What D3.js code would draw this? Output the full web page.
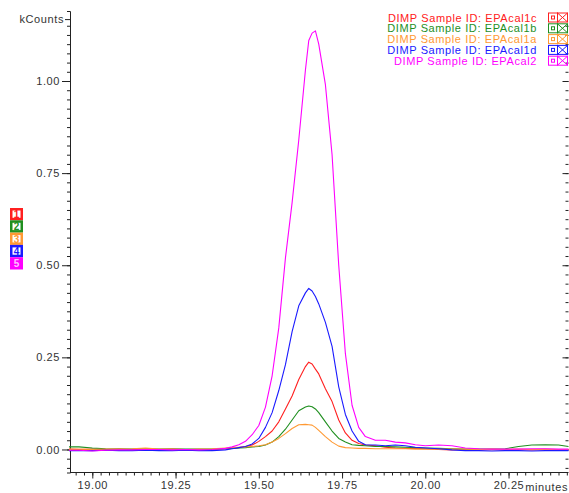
<!DOCTYPE html>
<html>
<head>
<meta charset="utf-8">
<script src="https://cdn.jsdelivr.net/npm/d3@7"></script>
<style>
  html, body { margin: 0; padding: 0; background: #fff; }
  svg { display: block; font-family: "Liberation Sans", Arial, sans-serif; }
</style>
</head>
<body>
<svg id="chart" width="569" height="493"></svg>
<script>
// Retention time (minutes)
const times = [18.93, 18.96, 19.00, 19.04, 19.08, 19.12, 19.16, 19.20, 19.24, 19.28, 19.32, 19.36,
  19.40, 19.42, 19.44, 19.46, 19.48, 19.50, 19.52, 19.54, 19.56, 19.58, 19.60, 19.62, 19.64,
  19.65, 19.66, 19.67, 19.68, 19.70, 19.72, 19.74, 19.76, 19.78, 19.80, 19.82, 19.85, 19.88,
  19.91, 19.94, 19.97, 20.00, 20.04, 20.08, 20.12, 20.16, 20.20, 20.24, 20.28, 20.32, 20.36,
  20.40, 20.43];

// Detector response (kCounts) for each injection
const cal1c = [0.001, 0.000, 0.001, 0.000, 0.001, 0.000, 0.001, 0.000, 0.001, 0.000, -0.001, 0.000,
  0.002, 0.003, 0.005, 0.008, 0.012, 0.022, 0.035, 0.050, 0.075, 0.110, 0.145, 0.190, 0.225,
  0.237, 0.232, 0.218, 0.205, 0.165, 0.130, 0.080, 0.045, 0.025, 0.016, 0.012, 0.010, 0.006,
  0.004, 0.003, 0.003, 0.002, 0.000, -0.001, 0.000, -0.001, 0.000, -0.001, 0.000, -0.001, 0.000,
  -0.001, 0.000];
const cal1b = [0.007, 0.007, 0.004, 0.002, 0.001, 0.001, 0.001, 0.001, 0.001, 0.001, 0.001, 0.001,
  0.002, 0.003, 0.004, 0.005, 0.007, 0.008, 0.012, 0.020, 0.035, 0.055, 0.080, 0.105, 0.115,
  0.118, 0.116, 0.110, 0.100, 0.075, 0.050, 0.030, 0.020, 0.013, 0.011, 0.010, 0.008, 0.008,
  0.007, 0.006, 0.005, 0.004, 0.003, 0.002, 0.001, 0.001, 0.001, 0.002, 0.008, 0.012, 0.013,
  0.012, 0.008];
const cal1a = [0.001, 0.001, 0.000, 0.001, 0.001, 0.002, 0.004, 0.001, 0.001, 0.000, 0.001, 0.002,
  0.004, 0.005, 0.006, 0.007, 0.008, 0.010, 0.013, 0.020, 0.030, 0.043, 0.057, 0.067, 0.068,
  0.067, 0.066, 0.060, 0.052, 0.035, 0.020, 0.009, 0.005, 0.004, 0.003, 0.003, 0.002, 0.002,
  0.002, 0.002, 0.001, 0.001, 0.001, 0.001, 0.001, 0.000, 0.001, 0.000, 0.001, 0.000, 0.001,
  0.000, 0.000];
const cal1d = [-0.003, -0.003, -0.003, -0.002, -0.003, -0.003, -0.002, -0.003, -0.003, -0.002, -0.003, -0.003,
  -0.001, 0.002, 0.005, 0.008, 0.015, 0.030, 0.060, 0.100, 0.160, 0.230, 0.320, 0.390, 0.425,
  0.437, 0.430, 0.415, 0.395, 0.345, 0.280, 0.170, 0.095, 0.050, 0.022, 0.013, 0.012, 0.010,
  0.012, 0.010, 0.006, 0.004, 0.002, -0.001, -0.003, -0.003, -0.004, -0.003, -0.003, -0.004, -0.003,
  -0.003, -0.003];
const cal2 = [-0.002, -0.002, -0.004, -0.002, -0.001, -0.001, 0.000, 0.000, -0.001, 0.000, -0.001, 0.000,
  0.003, 0.007, 0.013, 0.022, 0.040, 0.065, 0.115, 0.200, 0.330, 0.520, 0.670, 0.840, 1.030,
  1.110, 1.130, 1.136, 1.100, 0.990, 0.800, 0.500, 0.260, 0.120, 0.060, 0.035, 0.025, 0.025,
  0.020, 0.018, 0.013, 0.010, 0.012, 0.010, 0.004, 0.002, 0.001, 0.001, 0.001, 0.002, 0.002,
  0.001, 0.001];

const seriesNames = ["DIMP Sample ID: EPAcal1c", "DIMP Sample ID: EPAcal1b", "DIMP Sample ID: EPAcal1a",
  "DIMP Sample ID: EPAcal1d", "DIMP Sample ID: EPAcal2"];
const seriesValues = [cal1c, cal1b, cal1a, cal1d, cal2];
const seriesColors = ["#ff2020", "#1f8f1f", "#ff9933", "#1a1aff", "#ff00ff"];
const traceLabels = ["1", "2", "3", "4", "5"];

// Axis ticks
const xMajorTicks = [19.00, 19.25, 19.50, 19.75, 20.00, 20.25];
const yMajorTicks = [0.00, 0.25, 0.50, 0.75, 1.00];
const yUnitLabel = "kCounts";
const xUnitLabel = "minutes";

const svg = d3.select("#chart");
const x = d3.scaleLinear().domain([18.933, 20.43]).range([70, 568.5]);
const y = d3.scaleLinear().domain([-0.0625, 1.19]).range([472.5, 11]);

const axisColor = "#222";
const textColor = "#333";

// Minor tick positions every 0.025 units
const xMinor = d3.range(0, 61).map(i => +(18.95 + i * 0.025).toFixed(3)).filter(v => v <= 20.43);
const yMinor = d3.range(0, 50).map(i => +(-0.05 + i * 0.025).toFixed(3)).filter(v => v <= 1.16);

// Left axis
const gy = svg.append("g").attr("transform", `translate(${x.range()[0]},0)`);
gy.call(d3.axisLeft(y).tickValues(yMinor).tickSize(3).tickFormat(""));
gy.append("g").call(d3.axisLeft(y).tickValues(yMajorTicks).tickSize(8).tickPadding(2)
  .tickFormat(d3.format(".2f")));
gy.append("g").call(d3.axisLeft(y).tickValues([1.168]).tickSize(5).tickPadding(1)
  .tickFormat(() => yUnitLabel));
gy.selectAll("path.domain").attr("stroke", axisColor);
gy.selectAll("g > g > g.tick line, .tick line").attr("stroke", axisColor);
gy.selectAll("path.domain").filter((d, i) => i > 0).remove();

// Right-hand tick marks
const gr = svg.append("g").attr("transform", `translate(568.5,0)`);
gr.call(d3.axisLeft(y).tickValues(yMinor).tickSize(3).tickFormat(""));
gr.append("g").call(d3.axisLeft(y).tickValues(yMajorTicks).tickSize(6).tickFormat(""));
gr.selectAll("path.domain").remove();

// Bottom axis
const gx = svg.append("g").attr("transform", `translate(0,${y.range()[0]})`);
gx.call(d3.axisBottom(x).tickValues(xMinor).tickSize(3).tickFormat(""));
gx.append("g").call(d3.axisBottom(x).tickValues(xMajorTicks).tickSize(6).tickPadding(3)
  .tickFormat(d3.format(".2f")));
gx.selectAll("path.domain").filter((d, i) => i > 0).remove();
gx.selectAll("path.domain").attr("d", `M${x.range()[0]},0H${x.range()[1]}`);

svg.selectAll(".tick line").attr("stroke", axisColor);
svg.selectAll("path.domain").attr("stroke", axisColor);
svg.selectAll(".tick text")
  .attr("fill", textColor)
  .attr("font-size", 11)
  .attr("letter-spacing", "0.6px")
  .attr("font-family", "'Liberation Sans', Arial, sans-serif");

svg.append("text")
  .attr("x", 568).attr("y", 491)
  .attr("text-anchor", "end")
  .attr("font-size", 11).attr("letter-spacing", "0.6px")
  .attr("fill", textColor)
  .text(xUnitLabel);

// Traces
const line = d3.line().x((d, i) => x(times[i])).y(d => y(d));
const plot = svg.append("g");
seriesValues.forEach((vals, k) => {
  plot.append("path")
    .datum(vals)
    .attr("fill", "none")
    .attr("stroke", seriesColors[k])
    .attr("stroke-width", 1.1)
    .attr("stroke-linejoin", "round")
    .attr("d", line);
});

// Legend (top right)
const legend = svg.append("g");
seriesNames.forEach((name, k) => {
  const cy = 17.5 + k * 10.8;
  legend.append("text")
    .attr("x", 537).attr("y", cy + 4)
    .attr("text-anchor", "end")
    .attr("font-size", 11).attr("letter-spacing", "0.6px")
    .attr("fill", seriesColors[k])
    .text(name);
  const c = seriesColors[k];
  legend.append("rect").attr("x", 548.5).attr("y", cy - 4.5).attr("width", 9).attr("height", 9)
    .attr("fill", "none").attr("stroke", c).attr("stroke-width", 1);
  legend.append("rect").attr("x", 551.5).attr("y", cy - 1.5).attr("width", 3).attr("height", 3)
    .attr("fill", "none").attr("stroke", c).attr("stroke-width", 1);
  legend.append("rect").attr("x", 557.5).attr("y", cy - 4.5).attr("width", 10).attr("height", 9)
    .attr("fill", "none").attr("stroke", c).attr("stroke-width", 1);
  legend.append("path")
    .attr("d", `M557.5,${cy - 4.5}L567.5,${cy + 4.5}M567.5,${cy - 4.5}L557.5,${cy + 4.5}`)
    .attr("stroke", c).attr("stroke-width", 1).attr("fill", "none");
});

// Trace number markers (left)
const markers = svg.append("g");
traceLabels.forEach((lab, k) => {
  const top = 208 + k * 12.3;
  const c = seriesColors[k];
  const last = k === traceLabels.length - 1;
  markers.append("rect").attr("x", 10).attr("y", top).attr("width", 13).attr("height", 12.3)
    .attr("fill", c);
  if (!last) {
    markers.append("rect").attr("x", 12.5).attr("y", top + 2.5).attr("width", 8).attr("height", 7.3)
      .attr("fill", "#fff");
  }
  markers.append("text")
    .attr("x", 16.5).attr("y", top + 10)
    .attr("text-anchor", "middle")
    .attr("font-size", 10).attr("font-weight", "bold")
    .attr("fill", last ? "#ffc0ff" : c)
    .text(lab);
});
</script>
</body>
</html>
